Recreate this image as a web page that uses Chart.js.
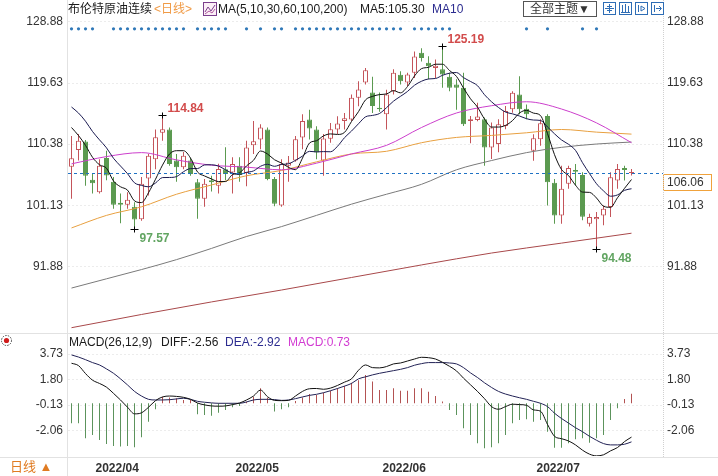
<!DOCTYPE html>
<html>
<head>
<meta charset="utf-8">
<title>布伦特原油连续 日线</title>
<script src="https://cdn.jsdelivr.net/npm/chart.js@4.4.1/dist/chart.umd.min.js"></script>
<style>
  html,body{margin:0;padding:0;background:#fff;}
  #wrap{position:relative;width:718px;height:476px;overflow:hidden;background:#fff;
        font-family:"Liberation Sans","Noto Sans CJK SC",Arial,sans-serif;font-size:12px;color:#1a1a1a;}
  canvas{position:absolute;left:0;}
  .t{position:absolute;white-space:nowrap;line-height:14px;}
  .ln{position:absolute;background:#e2e2e2;}
</style>
</head>
<body>
<div id="wrap">
  <canvas id="main" width="718" height="334" style="top:0"></canvas>
  <canvas id="macd" width="718" height="142" style="top:334px"></canvas>

  <div class="ln" style="left:67px;top:0;width:1px;height:476px"></div>
  <div class="ln" style="left:0;top:333px;width:718px;height:1px"></div>
  <div class="ln" style="left:0;top:457px;width:718px;height:1px"></div>
  <div style="position:absolute;left:663px;top:0;height:457px;border-left:1px dotted #d0d0d0"></div>

  <!-- header -->
  <div class="t" style="left:68px;top:2px">布伦特原油连续</div>
  <div class="t" style="left:154px;top:2px;color:#f09a45">&lt;日线&gt;</div>
  <svg style="position:absolute;left:203px;top:2px" width="14" height="14">
    <rect x="0.5" y="0.5" width="13" height="13" fill="#fbeef6" stroke="#7b3f8c"/>
    <polyline points="2,10 5,5 8,9 12,3" fill="none" stroke="#7b3f8c" stroke-width="1"/>
    <polyline points="2,12 6,9 9,11 12,7" fill="none" stroke="#b05aa0" stroke-width="1"/>
  </svg>
  <div class="t" style="left:218px;top:2px">MA(5,10,30,60,100,200)</div>
  <div class="t" style="left:360px;top:2px">MA5:105.30</div>
  <div class="t" style="left:432px;top:2px;color:#2b2b8f">MA10</div>
  <div class="t" style="left:523px;top:1px;width:72px;height:14px;border:1px solid #555;text-align:center;color:#333">全部主题▼</div>
  <svg style="position:absolute;left:603px;top:2px" width="62" height="14">
    <g fill="none" stroke="#2e6db5" stroke-width="1">
      <rect x="0.5" y="0.5" width="12" height="12"/>
      <path d="M6.5 2v9M2 6.5h9M4 4.5h5M4 8.5h5"/>
      <rect x="16.5" y="0.5" width="12" height="12"/>
      <path d="M19.5 3v7M22.5 2v9M25.5 4v6M18 10.5h9"/>
      <rect x="32.5" y="0.5" width="12" height="12"/>
      <path d="M35.5 3v7M38 4l4 2.5-4 2.5z"/>
      <rect x="48.5" y="0.5" width="12" height="12"/>
      <path d="M51.5 3v7M53 6.5h5M56 4l2.5 2.5-2.5 2.5"/>
    </g>
  </svg>

  <!-- macd header -->
  <svg style="position:absolute;left:0;top:334px" width="14" height="14">
    <circle cx="6.5" cy="6.5" r="5" fill="none" stroke="#444" stroke-dasharray="1.5 1.2"/>
    <circle cx="6.5" cy="6.5" r="2.6" fill="#d01c1c"/>
  </svg>
  <div class="t" style="left:69px;top:335px">MACD(26,12,9)</div>
  <div class="t" style="left:161px;top:335px">DIFF:-2.56</div>
  <div class="t" style="left:225px;top:335px;color:#2b2b8f">DEA:-2.92</div>
  <div class="t" style="left:288px;top:335px;color:#d23cd2">MACD:0.73</div>

  <div class="t" style="left:10px;top:460px;font-size:13px;color:#e07b22">日线 ▲</div>
</div>

<script>
// ---------------- data ----------------
const opens = [106.97,109.5,110.8,105.0,103.1,108.3,104.7,101.5,101.2,100.9,
  99.0,105.2,108.1,112.1,112.6,107.9,106.9,107.9,104.6,102.1,
  104.9,104.1,106.6,106.1,107.1,106.0,110.2,111.1,112.6,105.1,
  101.1,107.1,107.9,111.4,114.1,112.6,107.9,111.2,112.6,113.9,
  114.1,117.4,119.7,118.2,115.9,114.9,118.4,120.9,119.7,121.2,
  124.2,122.7,121.9,121.7,120.6,119.4,118.91,113.89,114.04,114.14,
  109.89,110.39,113.14,115.65,117.9,115.75,109.38,111.14,114.64,104.52,
  99.6,104.37,106.48,105.72,98.35,99.0,99.6,100.86,104.87,106.78,
  106.0];
const highs = [111.6,111.9,111.0,105.9,108.1,109.4,105.4,102.9,103.1,101.6,
  105.4,108.9,112.6,114.84,112.9,108.9,109.2,108.3,105.1,105.1,
  105.6,107.4,109.9,108.4,108.4,110.9,113.9,113.4,112.9,105.4,
  108.1,108.6,111.6,114.9,115.6,113.1,111.9,113.6,114.6,115.1,
  117.9,119.9,121.9,120.6,118.2,118.6,121.7,121.4,121.2,124.4,
  124.9,123.7,123.2,125.19,121.2,120.2,121.17,114.64,116.66,114.4,
  113.65,114.14,116.14,118.4,120.66,116.4,111.89,114.14,114.9,105.12,
  107.12,107.12,107.38,106.13,99.86,100.11,101.11,106.13,107.38,107.12,
  106.63];
const lows = [102.1,107.9,104.1,102.9,102.9,104.9,100.6,98.4,100.6,97.57,
  98.8,102.6,106.6,110.9,107.1,104.7,106.6,105.6,99.1,100.9,
  103.2,102.9,104.9,102.9,104.7,104.0,108.9,109.6,104.9,101.0,
  100.9,104.7,107.7,109.6,111.1,108.1,105.6,110.6,111.9,112.6,
  113.9,116.1,119.4,115.1,115.3,112.6,117.9,119.4,119.2,120.4,
  122.9,120.2,120.4,118.9,118.4,115.6,113.14,110.5,113.84,107.12,
  108.13,109.14,112.64,115.15,114.9,114.14,107.87,110.13,101.11,98.35,
  98.35,103.62,104.12,98.85,97.9,94.48,98.1,99.36,103.62,104.87,
  105.62];
const closes = [108.24,110.88,105.6,104.47,107.12,105.62,101.21,101.21,101.96,98.96,
  104.37,108.63,111.44,112.64,107.38,106.88,108.63,105.87,102.11,104.37,
  104.62,106.62,105.87,107.38,105.72,109.88,110.83,112.9,105.12,101.36,
  107.38,107.6,111.14,113.89,112.74,109.13,111.24,112.64,113.5,114.29,
  117.4,118.65,121.56,116.14,115.65,117.9,121.17,119.9,120.91,123.66,
  123.42,122.16,122.26,120.91,118.91,118.91,113.39,114.14,114.55,109.89,
  112.9,113.39,115.39,118.16,115.65,114.9,111.29,113.54,104.63,99.6,
  103.62,106.78,106.22,99.41,99.36,99.36,100.61,105.38,106.63,106.48,
  106.06];

const ma5 = [112.9,111.68,110.2,108.39,107.26,106.74,104.8,103.93,103.42,101.79,
  101.54,103.03,105.07,107.21,108.89,109.39,109.39,108.28,106.17,105.57,
  105.12,104.72,104.72,105.77,106.04,107.09,107.94,109.34,108.89,108.02,
  107.52,106.87,106.52,108.27,110.55,110.9,111.63,111.93,111.85,112.16,
  113.81,115.3,117.08,117.61,117.88,117.98,118.48,118.15,119.11,120.71,
  121.81,122.01,122.48,122.48,121.53,120.63,118.88,117.25,115.98,114.18,
  112.97,112.97,113.22,113.95,115.1,115.5,115.08,114.71,112.0,108.79,
  106.54,105.63,104.17,103.13,103.08,102.23,100.99,100.82,102.27,103.69,
  105.03];
const ma10 = [116.0,115.09,113.85,112.3,111.03,109.82,108.24,107.07,105.91,104.53,
  104.14,103.92,104.5,105.32,105.34,105.47,106.21,106.68,106.69,107.23,
  107.26,107.06,106.5,105.97,105.81,106.11,106.33,107.03,107.33,107.03,
  107.31,107.41,107.93,108.58,109.29,109.21,109.25,109.23,110.06,111.36,
  112.36,113.47,114.51,114.73,115.02,115.9,116.89,117.62,118.36,119.3,
  119.9,120.25,120.32,120.8,121.12,121.22,120.45,119.87,119.23,117.86,
  116.8,115.93,115.24,114.97,114.64,114.24,114.03,113.97,112.98,111.95,
  111.02,110.36,109.44,107.57,105.94,104.39,103.31,102.5,102.7,103.39,
  103.63];

const slowIdx = [0,5,10,15,20,25,30,35,40,45,50,55,60,65,70,75,80];
const ma30  = [107.4,108.5,109.1,108.0,107.2,106.9,106.5,107.5,108.9,110.2,112.9,115.1,116.2,116.8,115.7,113.6,110.6];
const ma60  = [97.7,99.6,100.9,102.8,104.2,105.6,106.4,107.7,108.9,109.3,110.6,111.4,111.7,112.1,112.6,112.2,111.9];
const ma100 = [88.6,90.0,91.4,92.9,94.6,96.4,97.9,99.6,101.3,102.8,104.3,106.5,107.9,109.1,109.9,110.4,110.7];
const ma200Idx = [0,10,20,30,40,50,60,70,80];
const ma200 = [82.6,84.6,86.5,88.3,90.2,92.1,93.9,95.4,96.9];

const signalIdx = [0,1,2,3,6,7,8,9,10,11,12,13,14,15,16,18,19,20,21,22,25,27,29,30,
  32,33,34,35,36,37,38,39,40,41,42,43,44,45,46,47,49,50,51,52,53,54,65,68,73,75];

const markIdx  = [13,9,53,75];
const markKind = ['H','L','H','L'];

const diff = [3.03,2.85,2.25,1.75,1.5,1.22,0.75,0.25,-0.3,-0.8,
  -0.72,-0.3,0.2,0.48,0.55,0.52,0.45,0.3,0.02,-0.12,
  -0.2,-0.22,-0.2,-0.1,0.02,0.25,0.55,1.0,0.5,0.22,
  0.2,0.22,0.55,0.9,1.1,1.12,1.06,1.15,1.35,1.6,
  1.85,2.5,2.9,2.7,2.68,2.78,2.98,3.05,3.2,3.35,
  3.48,3.45,3.35,3.1,2.8,2.45,1.9,1.4,0.9,0.35,
  -0.25,-0.45,-0.25,-0.07,-0.1,-0.15,-0.5,-0.6,-1.6,-2.5,
  -2.68,-2.85,-3.15,-3.55,-3.85,-3.98,-3.9,-3.6,-3.35,-2.9,
  -2.56];
const dea = [3.66,3.5,3.3,3.08,2.9,2.6,2.27,1.85,1.39,0.9,
  0.55,0.3,0.25,0.25,0.27,0.33,0.38,0.3,0.15,0.08,
  0.03,0,0,0,0,0.1,0.25,0.3,0.3,0.28,
  0.22,0.25,0.35,0.48,0.6,0.68,0.8,0.95,1.12,1.3,
  1.5,1.85,2.0,2.15,2.27,2.37,2.47,2.57,2.7,2.88,
  3.0,3.08,3.08,3.08,3.05,2.98,2.7,2.3,1.95,1.55,
  1.2,0.9,0.7,0.55,0.42,0.3,0.15,0.0,-0.25,-0.75,
  -1.15,-1.5,-1.85,-2.15,-2.5,-2.8,-3.05,-3.15,-3.15,-3.1,
  -2.92];
const macdHist = [-1.51,-1.51,-2.65,-2.4,-2.78,-3.08,-3.23,-3.28,-3.23,-3.33,
  -2.57,-1.39,-0.45,0.5,0.43,0.38,0.25,0.25,-0.83,-0.88,
  -0.94,-0.71,-0.51,-0.3,-0.2,0.12,0.5,1.13,0.42,-0.63,
  -0.45,-0.3,0.17,0.43,0.7,0.62,0.8,0.95,1.13,1.31,
  1.56,1.75,2.14,1.64,1.0,1.0,1.13,0.95,0.95,1.13,
  1.13,0.88,0.55,0.13,-0.51,-0.88,-1.89,-2.4,-3.03,-3.41,
  -3.33,-3.03,-2.4,-1.51,-1.26,-1.21,-1.39,-1.26,-2.15,-3.36,
  -3.36,-3.03,-2.73,-2.65,-2.98,-2.65,-2.4,-1.26,-0.38,0.33,
  0.73];

const priceTicks = [91.88,101.13,110.38,119.63,128.88];
const macdTicks  = [-2.06,-0.13,1.80,3.73];
const monthIdx    = [3,23,44,66];
const monthLabels = ['2022/04','2022/05','2022/06','2022/07'];

// ---------------- styling / layout ----------------
const RED = '#c4545a', GREEN = '#5b9a50';
const X_MIN = -0.5, X_MAX = 84.5;
const SIGNAL_Y = 127.84;
const up = closes.map((c,i) => c >= opens[i]);

Chart.defaults.font.family = '"Liberation Sans", Arial, sans-serif';
Chart.defaults.font.size = 12;
Chart.defaults.color = '#333';

function yAxis(pos, ticks, min, max, width, pad, grid) {
  return {
    position: pos, min: min, max: max,
    afterFit(s) { s.width = width; s.paddingTop = 0; s.paddingBottom = 0; },
    afterBuildTicks(s) { s.ticks = ticks.map(v => ({value: v})); },
    ticks: { callback: v => Number(v).toFixed(2), padding: pad, color: '#333', font: {size: 12} },
    grid: { display: grid, color: '#ececec', drawTicks: false, lineWidth: 1 },
    border: { display: false, dash: [2,2] }
  };
}
const pts = (arr, idx) => arr.map((v,k) => ({x: idx ? idx[k] : k, y: v}));
function line(arr, color, idx) {
  return { type: 'line', data: pts(arr, idx), borderColor: color, borderWidth: 1,
           pointRadius: 0, cubicInterpolationMode: 'monotone', order: 0 };
}

const annot = {
  id: 'annot',
  afterDatasetsDraw(chart) {
    const {ctx, chartArea: a, scales: {x, y}} = chart;
    ctx.save();
    const last = closes[closes.length - 1];
    const py = Math.round(y.getPixelForValue(last)) + 0.5;
    ctx.strokeStyle = '#1f72c4'; ctx.lineWidth = 1; ctx.setLineDash([3,3]);
    ctx.beginPath(); ctx.moveTo(a.left, py); ctx.lineTo(a.right, py); ctx.stroke();
    ctx.setLineDash([]);
    ctx.fillStyle = '#fff'; ctx.fillRect(a.right + 1, py + 1, 48, 16);
    ctx.strokeStyle = '#f0a23c'; ctx.strokeRect(a.right + 0.5, py + 1, 48, 16);
    ctx.fillStyle = '#333'; ctx.font = '12px "Liberation Sans", Arial, sans-serif';
    ctx.textBaseline = 'middle'; ctx.textAlign = 'left';
    ctx.fillText(last.toFixed(2), a.right + 4, py + 9.5);

    ctx.font = 'bold 12px "Liberation Sans", Arial, sans-serif';
    markIdx.forEach((i, k) => {
      const isH = markKind[k] === 'H';
      const v = isH ? highs[i] : lows[i];
      const cx = x.getPixelForValue(i);
      const cy = Math.round(y.getPixelForValue(v)) + 0.5;
      ctx.strokeStyle = '#000'; ctx.lineWidth = 1;
      ctx.beginPath();
      ctx.moveTo(cx - 4, cy); ctx.lineTo(cx + 4, cy);
      ctx.moveTo(cx, cy - 3); ctx.lineTo(cx, cy + 3);
      ctx.stroke();
      ctx.fillStyle = isH ? '#d24b4b' : '#62a562';
      ctx.fillText(v.toFixed(2), cx + 5, isH ? cy - 7 : cy + 9);
    });
    ctx.restore();
  }
};

new Chart(document.getElementById('main'), {
  type: 'bar',
  data: { datasets: [
    line(ma5, '#111111'),
    line(ma10, '#1a1a50'),
    line(ma30, '#cc3fcc', slowIdx),
    line(ma60, '#e8a040', slowIdx),
    line(ma100, '#7a7a7a', slowIdx),
    line(ma200, '#a8484a', ma200Idx),
    { type: 'scatter', data: signalIdx.map(i => ({x: i, y: SIGNAL_Y})), pointRadius: 1.6,
      backgroundColor: '#2f78b8', borderWidth: 0, order: 0 },
    { type: 'bar', data: opens.map((o,i) => ({x: i, y: [o, closes[i]]})), barThickness: 5,
      backgroundColor: up.map(u => u ? '#ffffff' : GREEN), borderColor: up.map(u => u ? RED : GREEN),
      borderWidth: 1, borderSkipped: false, minBarLength: 1, grouped: false, inflateAmount: 0, order: 5 },
    { type: 'bar', data: highs.map((h,i) => ({x: i, y: [lows[i], h]})), barThickness: 1,
      backgroundColor: up.map(u => u ? RED : GREEN), borderWidth: 0, grouped: false, inflateAmount: 0, order: 6 }
  ]},
  options: {
    responsive: false, animation: false, devicePixelRatio: 1,
    layout: { padding: { top: 15, bottom: 2, left: 0, right: 0 } },
    plugins: { legend: { display: false }, tooltip: { enabled: false } },
    scales: {
      x: { type: 'linear', min: X_MIN, max: X_MAX, offset: false, display: false },
      y: yAxis('left', priceTicks, 82.25, 129.93, 68, 5, true),
      y2: yAxis('right', priceTicks, 82.25, 129.93, 55, 4, false)
    }
  },
  plugins: [annot]
});

new Chart(document.getElementById('macd'), {
  type: 'bar',
  data: { datasets: [
    line(diff, '#111111'),
    line(dea, '#222255'),
    { type: 'bar', data: pts(macdHist), barThickness: 1,
      backgroundColor: macdHist.map(v => v >= 0 ? '#b35252' : '#5c935c'),
      borderWidth: 0, inflateAmount: 0, order: 5 }
  ]},
  options: {
    responsive: false, animation: false, devicePixelRatio: 1,
    layout: { padding: { top: 13, bottom: 0, left: 0, right: 0 } },
    plugins: { legend: { display: false }, tooltip: { enabled: false } },
    scales: {
      x: { type: 'linear', min: X_MIN, max: X_MAX, offset: false,
           afterFit(s) { s.height = 20; s.paddingLeft = 0; s.paddingRight = 0; },
           afterBuildTicks(s) { s.ticks = monthIdx.map(v => ({value: v})); },
           ticks: { callback: (v, i) => monthLabels[i], align: 'start', labelOffset: 3, padding: -3,
                    autoSkip: false, maxRotation: 0, color: '#333', font: {size: 12, weight: 'bold'} },
           grid: { display: false }, border: { display: false } },
      y: yAxis('left', macdTicks, -3.99, 4.26, 68, 5, true),
      y2: yAxis('right', macdTicks, -3.99, 4.26, 55, 4, false)
    }
  }
});
</script>
</body>
</html>
